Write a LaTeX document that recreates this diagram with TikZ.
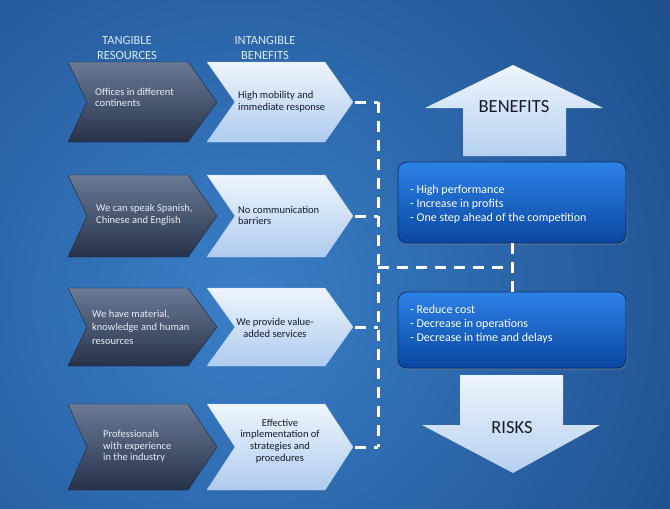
\documentclass[tikz,border=0pt]{standalone}
\usepackage{fontspec}
\setmainfont{Carlito}
\usetikzlibrary{shadows}
\definecolor{bgin}{HTML}{3A7FC8}
\definecolor{bgout}{HTML}{0A2C62}
\definecolor{dktop}{HTML}{6A7A95}
\definecolor{dkbot}{HTML}{27324A}
\definecolor{lttop}{HTML}{EEF5FD}
\definecolor{ltbot}{HTML}{AECBEE}
\definecolor{bxtop}{HTML}{2C82E6}
\definecolor{bxbot}{HTML}{0A47A2}
\definecolor{bxline}{HTML}{0A2F6E}
\definecolor{hdtxt}{HTML}{DCE7F4}
\definecolor{dktxt}{HTML}{E8EDF4}
\definecolor{lttxt}{HTML}{161A28}
\tikzset{
  darkchev/.style={top color=dktop, bottom color=dkbot, draw=dkbot!80!black, line width=0.4pt},
  lightchev/.style={top color=lttop, bottom color=ltbot, draw=ltbot!90!white, line width=0.4pt},
  bigarrow/.style={top color=lttop, bottom color=ltbot!90!white},
  bluebox/.style={draw=bxline, line width=0.8pt, rounded corners=9pt, top color=bxtop, bottom color=bxbot,
    drop shadow={opacity=0.35, shadow xshift=1.5pt, shadow yshift=-2pt}, minimum width=228pt, inner sep=0pt},
  hdr/.style={font=\fontsize{12.5}{15}\selectfont, text=hdtxt, align=center, inner sep=0pt},
  dtext/.style={font=\fontsize{10.5}{11.5}\selectfont, text=dktxt, align=left, inner sep=0pt},
  ltext/.style={font=\fontsize{10.5}{11.8}\selectfont, text=lttxt, inner sep=0pt},
  btext/.style={font=\fontsize{12}{14}\selectfont, text=white, align=left, inner sep=0pt, anchor=west},
  atext/.style={font=\fontsize{18.5}{20}\selectfont, text=lttxt, inner sep=0pt},
  dashline/.style={draw=white, line width=3pt, dash pattern=on 11pt off 8pt},
}
\begin{document}
\begin{tikzpicture}[x=1pt,y=-1pt]
\useasboundingbox (0,0) rectangle (670,509);
\begin{scope}
\clip (0,0) rectangle (670,509);
\shade[inner color=bgin, outer color=bgout] (240,300) circle (880);
\end{scope}

% headers
\node[hdr] (h1) at (127,48) {TANGIBLE\\RESOURCES};
\node[hdr] (h2) at (265,48) {INTANGIBLE\\BENEFITS};

% chevrons
\foreach \cy/\hh [count=\i] in {102/40, 216/41, 327/39, 447/43}{
  \path[darkchev] (68,\cy-\hh) -- (188,\cy-\hh) -- (217,\cy) -- (188,\cy+\hh) -- (68,\cy+\hh) -- (87,\cy) -- cycle;
  \path[lightchev] (207,\cy-\hh) -- (325,\cy-\hh) -- (353,\cy) -- (325,\cy+\hh) -- (207,\cy+\hh) -- (235,\cy) -- cycle;
  \coordinate (t\i) at (355,\cy);
  \coordinate (v\i) at (378,\cy);
}

% chevron texts
\node[dtext, anchor=west] (d1) at (95,97.5) {Offices in different\\continents};
\node[ltext, anchor=west, align=left] (l1) at (238,102) {High mobility and\\immediate response};
\node[dtext, anchor=west] (d2) at (96,215) {We can speak Spanish,\\Chinese and English};
\node[ltext, anchor=west, align=left] (l2) at (238,215.5) {No communication\\barriers};
\node[dtext, anchor=west, font=\fontsize{10.5}{13.5}\selectfont] (d3) at (92,327) {We have material,\\knowledge and human\\resources};
\node[ltext, align=center] (l3) at (275,328) {We provide value-\\added services};
\node[dtext, anchor=west] (d4) at (103,446.5) {Professionals\\with experience\\in the industry};
\node[ltext, align=center] (l4) at (280,441) {Effective\\implementation of\\strategies and\\procedures};

% arrows
\path[bigarrow] (463,156) -- (463,108) -- (425,108) -- (513,65) -- (603,108) -- (566,108) -- (566,156) -- cycle;
\node[atext] (ben) at (514,107) {BENEFITS};
\path[bigarrow] (460,375) -- (563,375) -- (563,425) -- (600,425) -- (513,473) -- (422,425) -- (460,425) -- cycle;
\node[atext] (risk) at (512,428) {RISKS};

% boxes
\node[bluebox, minimum height=81pt] (bx1) at (512,202.5) {};
\node[btext] (bt1) at (410,204) {- High performance\\- Increase in profits\\- One step ahead of the competition};
\node[bluebox, minimum height=76pt] (bx2) at (512,330) {};
\node[btext] (bt2) at (410,324) {- Reduce cost\\- Decrease in operations\\- Decrease in time and delays};

% dashed connectors
\coordinate (vm) at (378,267);
\coordinate (mm) at (512,267);
\draw[dashline] (t1) -- (v1);
\draw[dashline] (v1) -- (v4);
\draw[dashline] (t2) -- (v2);
\draw[dashline] (t3) -- (v3);
\draw[dashline] (t4) -- (v4);
\draw[dashline] (vm) -- (mm);
\draw[dashline] (bx1.south) -- (bx2.north);
\end{tikzpicture}
\end{document}
